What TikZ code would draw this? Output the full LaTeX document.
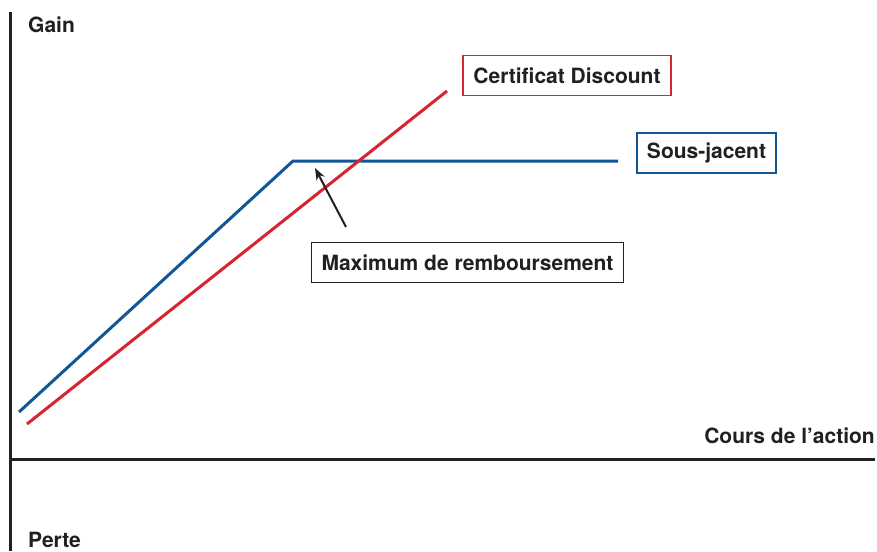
\documentclass[tikz,border=0pt]{standalone}
\usepackage{fontspec}
\setmainfont{TeX Gyre Heros}
\usetikzlibrary{arrows.meta}
\definecolor{cred}{RGB}{214,36,48}
\definecolor{cblue}{RGB}{18,86,150}
\definecolor{cblack}{RGB}{35,31,32}
\begin{document}
\begin{tikzpicture}[x=1pt,y=-1pt,
  lbl/.style={font=\fontsize{21}{25}\selectfont\bfseries, text=cblack, inner sep=0pt},
  boxed/.style={lbl, draw, line width=1.6pt, minimum height=40pt, inner xsep=10pt, fill=white},
  axis/.style={cblack, line width=3pt},
  curve/.style={line width=3pt}]
\useasboundingbox (0,0) rectangle (877,551);
% axes
\coordinate (ytop) at (10,12);
\coordinate (ybot) at (10,551);
\coordinate (xl) at (10,459);
\coordinate (xr) at (875,459);
\draw[axis] (ytop) -- (ybot);
\draw[axis] (xl) -- (xr);
% curves
\coordinate (b0) at (19,412);
\coordinate (b1) at (293,161);
\coordinate (b2) at (618,161);
\coordinate (r0) at (27,424);
\coordinate (r1) at (447,91);
\draw[curve, cblue] (b0) -- (b1) -- (b2);
\draw[curve, cred] (r0) -- (r1);
% labels
\node[lbl, anchor=west] (gain) at (28,25) {Gain};
\node[lbl, anchor=west] (perte) at (28,540) {Perte};
\node[lbl, anchor=east] (cours) at (875,436) {Cours de l’action};
\node[boxed, draw=cred, minimum width=208pt] (cert) at (567,75.5) {Certificat Discount};
\node[boxed, draw=cblue, minimum width=139pt] (sous) at (706.5,153) {Sous-jacent};
\node[boxed, draw=cblack, minimum width=311pt] (maxr) at (467.5,262.5) {Maximum de remboursement};
\coordinate (atip) at (315,168);
\coordinate (atail) at (346,227);
\draw[cblack, line width=2pt, -{Stealth[length=12pt,width=9pt]}] (atail) -- (atip);
\end{tikzpicture}
\end{document}
